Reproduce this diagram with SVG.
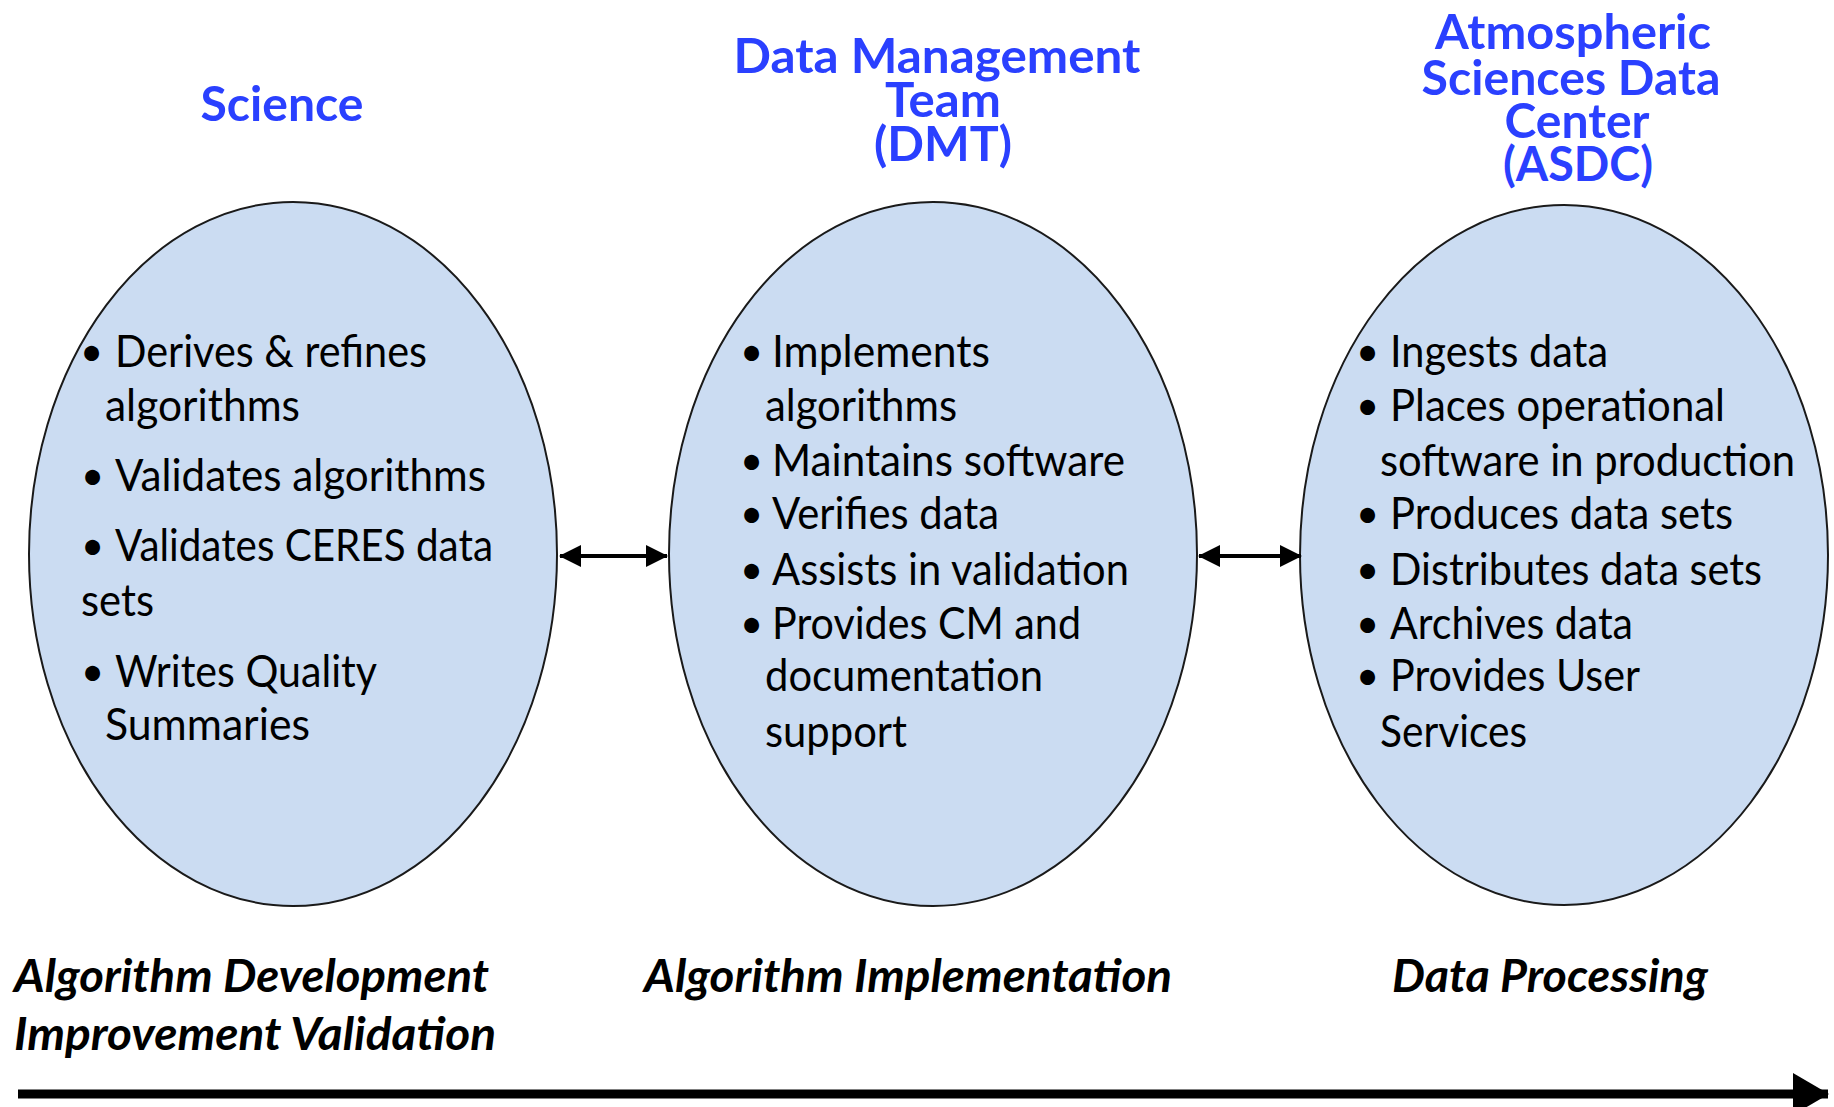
<svg xmlns="http://www.w3.org/2000/svg" width="1834" height="1107" viewBox="0 0 1834 1107">
<style>
.ell{fill:#cbdcf2;stroke:#1a1a1a;stroke-width:2}
.title{font-family:Lato,"Open Sans","Liberation Sans",sans-serif;font-weight:bold;font-size:48px;fill:#2a40ff;text-anchor:middle}
.body{font-family:Lato,"Open Sans","Liberation Sans",sans-serif;font-size:44px;fill:#000}
.bul{font-family:Lato,"Open Sans","Liberation Sans",sans-serif;font-size:40px;fill:#000}
.phase{font-family:Lato,"Open Sans","Liberation Sans",sans-serif;font-weight:bold;font-style:italic;font-size:46px;fill:#000}
.conn{stroke:#000;fill:none}
</style>
<defs>
<marker id="ah" viewBox="0 0 22 22" refX="21" refY="11" markerWidth="22" markerHeight="22" markerUnits="userSpaceOnUse" orient="auto-start-reverse">
<path d="M0,0 L22,11 L0,22 z" fill="#000"/>
</marker>
<marker id="bigah" viewBox="0 0 36 42" refX="35" refY="21" markerWidth="36" markerHeight="42" markerUnits="userSpaceOnUse" orient="auto">
<path d="M0,0 L36,21 L0,42 z" fill="#000"/>
</marker>
</defs>

<g id="science">
<text class="title" x="282" y="121" textLength="163" lengthAdjust="spacingAndGlyphs">Science</text>
<ellipse class="ell" cx="293" cy="554" rx="264" ry="352"/>
<text class="bul" x="80" y="366">•</text>
<text class="body" x="115" y="367" textLength="312" lengthAdjust="spacingAndGlyphs">Derives &amp; refines</text>
<text class="body" x="105" y="421" textLength="195" lengthAdjust="spacingAndGlyphs">algorithms</text>
<text class="bul" x="81" y="490">•</text>
<text class="body" x="115" y="491" textLength="371" lengthAdjust="spacingAndGlyphs">Validates algorithms</text>
<text class="bul" x="81" y="560">•</text>
<text class="body" x="115" y="561" textLength="378" lengthAdjust="spacingAndGlyphs">Validates CERES data</text>
<text class="body" x="81" y="616" textLength="73" lengthAdjust="spacingAndGlyphs">sets</text>
<text class="bul" x="81" y="686">•</text>
<text class="body" x="115" y="687" textLength="262" lengthAdjust="spacingAndGlyphs">Writes Quality</text>
<text class="body" x="105" y="740" textLength="205" lengthAdjust="spacingAndGlyphs">Summaries</text>
</g>

<g id="dmt">
<text class="title" x="937" y="73" textLength="407" lengthAdjust="spacingAndGlyphs">Data Management</text>
<text class="title" x="943" y="117" textLength="116" lengthAdjust="spacingAndGlyphs">Team</text>
<text class="title" x="943" y="161" textLength="138" lengthAdjust="spacingAndGlyphs">(DMT)</text>
<ellipse class="ell" cx="933" cy="554" rx="264" ry="352"/>
<text class="bul" x="740" y="366">•</text>
<text class="body" x="772" y="367" textLength="218" lengthAdjust="spacingAndGlyphs">Implements</text>
<text class="body" x="765" y="421" textLength="192" lengthAdjust="spacingAndGlyphs">algorithms</text>
<text class="bul" x="740" y="475">•</text>
<text class="body" x="772" y="476" textLength="353" lengthAdjust="spacingAndGlyphs">Maintains software</text>
<text class="bul" x="740" y="528">•</text>
<text class="body" x="772" y="529" textLength="227" lengthAdjust="spacingAndGlyphs">Verifies data</text>
<text class="bul" x="740" y="584">•</text>
<text class="body" x="772" y="585" textLength="357" lengthAdjust="spacingAndGlyphs">Assists in validation</text>
<text class="bul" x="740" y="638">•</text>
<text class="body" x="772" y="639" textLength="309" lengthAdjust="spacingAndGlyphs">Provides CM and</text>
<text class="body" x="765" y="691" textLength="278" lengthAdjust="spacingAndGlyphs">documentation</text>
<text class="body" x="765" y="747" textLength="142" lengthAdjust="spacingAndGlyphs">support</text>
</g>

<g id="asdc">
<text class="title" x="1573" y="49" textLength="276" lengthAdjust="spacingAndGlyphs">Atmospheric</text>
<text class="title" x="1571" y="95" textLength="299" lengthAdjust="spacingAndGlyphs">Sciences Data</text>
<text class="title" x="1577" y="138" textLength="145" lengthAdjust="spacingAndGlyphs">Center</text>
<text class="title" x="1578" y="181" textLength="150" lengthAdjust="spacingAndGlyphs">(ASDC)</text>
<ellipse class="ell" cx="1564" cy="555" rx="264" ry="350"/>
<text class="bul" x="1356" y="366">•</text>
<text class="body" x="1390" y="367" textLength="218" lengthAdjust="spacingAndGlyphs">Ingests data</text>
<text class="bul" x="1356" y="420">•</text>
<text class="body" x="1390" y="421" textLength="335" lengthAdjust="spacingAndGlyphs">Places operational</text>
<text class="body" x="1380" y="476" textLength="415" lengthAdjust="spacingAndGlyphs">software in production</text>
<text class="bul" x="1356" y="528">•</text>
<text class="body" x="1390" y="529" textLength="343" lengthAdjust="spacingAndGlyphs">Produces data sets</text>
<text class="bul" x="1356" y="584">•</text>
<text class="body" x="1390" y="585" textLength="372" lengthAdjust="spacingAndGlyphs">Distributes data sets</text>
<text class="bul" x="1356" y="638">•</text>
<text class="body" x="1390" y="639" textLength="243" lengthAdjust="spacingAndGlyphs">Archives data</text>
<text class="bul" x="1356" y="690">•</text>
<text class="body" x="1390" y="691" textLength="250" lengthAdjust="spacingAndGlyphs">Provides User</text>
<text class="body" x="1380" y="747" textLength="147" lengthAdjust="spacingAndGlyphs">Services</text>
</g>

<g id="phases">
<text class="phase" x="14" y="992" textLength="475" lengthAdjust="spacingAndGlyphs">Algorithm Development</text>
<text class="phase" x="14" y="1050" textLength="482" lengthAdjust="spacingAndGlyphs">Improvement Validation</text>
<text class="phase" x="644" y="992" textLength="528" lengthAdjust="spacingAndGlyphs">Algorithm Implementation</text>
<text class="phase" x="1392" y="992" textLength="316" lengthAdjust="spacingAndGlyphs">Data Processing</text>
</g>

<g id="connectors">
<line class="conn" x1="560" y1="556" x2="667" y2="556" stroke-width="4" marker-start="url(#ah)" marker-end="url(#ah)"/>
<line class="conn" x1="1199" y1="556" x2="1301" y2="556" stroke-width="4" marker-start="url(#ah)" marker-end="url(#ah)"/>
<line class="conn" x1="18" y1="1094" x2="1828" y2="1094" stroke-width="9" marker-end="url(#bigah)"/>
</g>
</svg>
